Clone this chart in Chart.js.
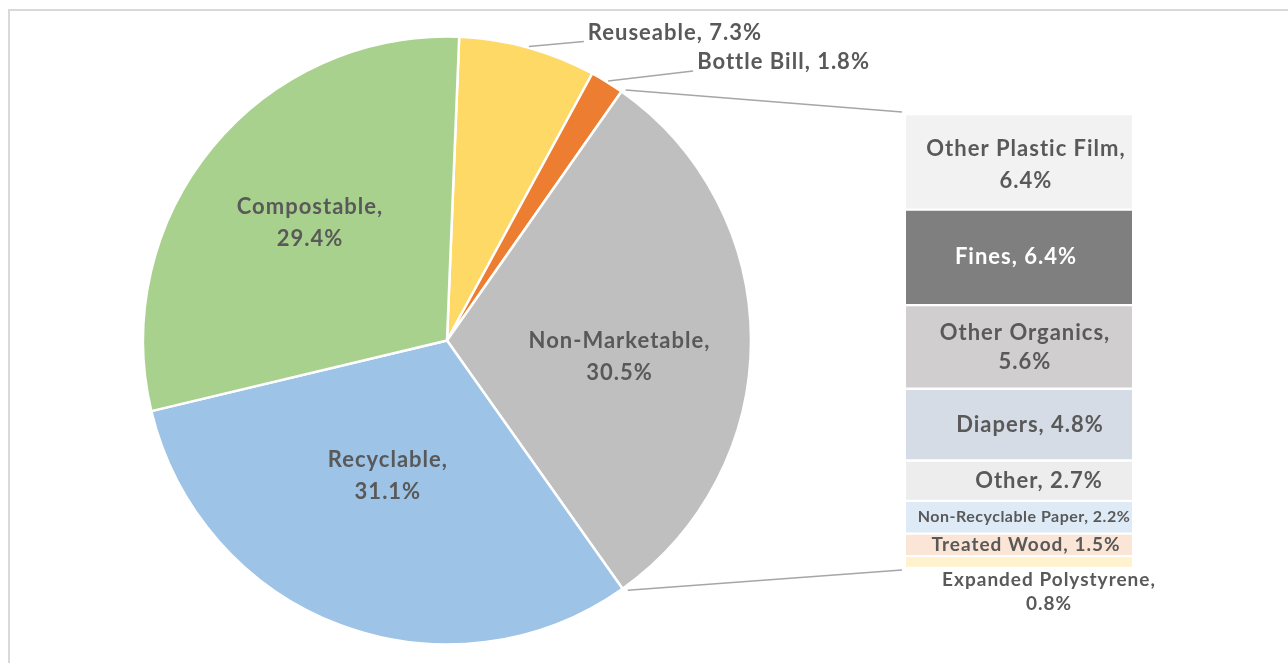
<!DOCTYPE html>
<html>
<head>
<meta charset="utf-8">
<script src="https://cdn.jsdelivr.net/npm/chart.js@4.4.1/dist/chart.umd.min.js"></script>
<style>
  html, body { margin: 0; padding: 0; background: #fff; }
  #wrap { position: relative; width: 1288px; height: 663px; overflow: hidden; }
  #frame { position: absolute; left: 8px; top: 9px; width: 1400px; height: 800px; border: 2px solid #d9d9d9; box-sizing: border-box; }
  canvas { position: absolute; left: 0; top: 0; }
</style>
</head>
<body>
<div id="wrap">
  <div id="frame"></div>
  <canvas id="pieCanvas" width="1288" height="663"></canvas>
  <canvas id="barCanvas" width="1288" height="663"></canvas>
</div>
<script>
// pie slices, clockwise from the top
const pieLabels = ['Reuseable', 'Bottle Bill', 'Non-Marketable', 'Recyclable', 'Compostable']
const pieValues = [7.3, 1.8, 30.5, 31.1, 29.4]
const pieColors = ['#ffd966', '#ed7d31', '#bfbfbf', '#9dc3e6', '#a9d18e']

// breakdown of Non-Marketable, bottom to top of the stacked bar
const barLabels = ['Expanded Polystyrene', 'Treated Wood', 'Non-Recyclable Paper', 'Other', 'Diapers', 'Other Organics', 'Fines', 'Other Plastic Film']
const barValues = [0.8, 1.5, 2.2, 2.7, 4.8, 5.6, 6.4, 6.4]
const barColors = ['#fff2cc', '#fbe5d6', '#deebf7', '#ededed', '#d6dce5', '#d0cece', '#7f7f7f', '#f2f2f2']

const FONT = 'Lato, "DejaVu Sans", sans-serif'
const TEXT = '#595959'
const LINE = '#a6a6a6'

function fmt(v) { return v.toFixed(1) + '%' }

function drawText(ctx, lines, x, y, size, color, lh) {
    ctx.save()
    ctx.font = 'bold ' + size + 'px ' + FONT
    ctx.letterSpacing = (size > 16 ? 1 : 0.5) + 'px'
    ctx.fillStyle = color
    ctx.textAlign = 'center'
    ctx.textBaseline = 'middle'
    const start = y - (lines.length - 1) * lh / 2
    lines.forEach((t, i) => ctx.fillText(t, x, start + i * lh))
    ctx.restore()
}

function arcPoint(arc, angle, r) {
    return { x: arc.x + Math.cos(angle) * r, y: arc.y + Math.sin(angle) * r }
}

// inside labels: [fraction of radius, angle nudge in degrees]
const insideLabel = { 'Non-Marketable': [0.57, 5.7], 'Recyclable': [0.485, 3.0], 'Compostable': [0.593, 1.1] }
// outside labels: offset of text start from slice edge
const outsideLabel = { 'Reuseable': [60, -15], 'Bottle Bill': [90, -20] }

const pieLabelPlugin = {
    id: 'pieLabels',
    afterDraw(chart) {
        const ctx = chart.ctx
        const arcs = chart.getDatasetMeta(0).data
        arcs.forEach((arc, i) => {
            const name = pieLabels[i]
            const mid = (arc.startAngle + arc.endAngle) / 2
            if (insideLabel[name]) {
                const [f, nudge] = insideLabel[name]
                const p = arcPoint(arc, mid + nudge * Math.PI / 180, arc.outerRadius * f)
                drawText(ctx, [name + ',', fmt(pieValues[i])], p.x, p.y, 22, TEXT, 32)
            } else {
                const edge = arcPoint(arc, mid, arc.outerRadius)
                const [ox, oy] = outsideLabel[name]
                ctx.save()
                ctx.strokeStyle = LINE
                ctx.lineWidth = 1.5
                ctx.beginPath()
                ctx.moveTo(edge.x + 1, edge.y - 1)
                ctx.lineTo(edge.x + ox - 4, edge.y + oy + 9)
                ctx.stroke()
                ctx.font = 'bold 22px ' + FONT
                ctx.letterSpacing = '1px'
                ctx.fillStyle = TEXT
                ctx.textBaseline = 'middle'
                ctx.fillText(name + ', ' + fmt(pieValues[i]), edge.x + ox, edge.y + oy)
                ctx.restore()
            }
        })
    }
}

const pieChart = new Chart(document.getElementById('pieCanvas'), {
    type: 'pie',
    data: {
        labels: pieLabels,
        datasets: [{
            data: pieValues,
            backgroundColor: pieColors,
            borderColor: '#ffffff',
            borderWidth: 2.5,
            hoverOffset: 0
        }]
    },
    options: {
        responsive: false,
        animation: false,
        rotation: 2.3,
        radius: 304,
        layout: { padding: { left: 143, right: 537, top: 37, bottom: 19 } },
        plugins: { legend: { display: false }, tooltip: { enabled: false } }
    },
    plugins: [pieLabelPlugin]
})

// label tweaks for the bar: [dx, dy, font size, two lines]
const barLabelStyle = {
    'Other Plastic Film': [7, 3, 22, true], 'Fines': [-3, 0, 22, false], 'Other Organics': [6, 0, 22, true],
    'Diapers': [11, 0, 22, false], 'Other': [20, 0, 22, false], 'Non-Recyclable Paper': [5, 0, 16, false],
    'Treated Wood': [7, 0, 19, false], 'Expanded Polystyrene': [30, 30, 19, true]
}

const barLabelPlugin = {
    id: 'barLabels',
    afterDraw(chart) {
        const ctx = chart.ctx
        // connector lines from the Non-Marketable slice to the bar
        const slice = pieChart.getDatasetMeta(0).data[2]
        const a = arcPoint(slice, slice.startAngle, slice.outerRadius + 2)
        const b = arcPoint(slice, slice.endAngle, slice.outerRadius + 2)
        const top = chart.getDatasetMeta(barValues.length - 1).data[0]
        const bottom = chart.getDatasetMeta(0).data[0]
        const left = top.x - top.width / 2
        ctx.save()
        ctx.strokeStyle = LINE
        ctx.lineWidth = 1.5
        ctx.beginPath()
        ctx.moveTo(a.x + 3, a.y)
        ctx.lineTo(left - 4, top.y - 2)
        ctx.moveTo(b.x + 4, b.y)
        ctx.lineTo(left - 4, bottom.base + 2)
        ctx.stroke()
        ctx.restore()

        barLabels.forEach((name, i) => {
            const bar = chart.getDatasetMeta(i).data[0]
            const [dx, dy, size, split] = barLabelStyle[name]
            const cy = (bar.y + bar.base) / 2 + dy
            const color = name === 'Fines' ? '#ffffff' : TEXT
            const lines = split ? [name + ',', fmt(barValues[i])] : [name + ', ' + fmt(barValues[i])]
            const lh = name === 'Expanded Polystyrene' ? 24 : (name === 'Other Organics' ? 29 : 32)
            drawText(ctx, lines, bar.x + dx, cy, size, color, lh)
        })
    }
}

new Chart(document.getElementById('barCanvas'), {
    type: 'bar',
    data: {
        labels: ['Non-Marketable'],
        datasets: barLabels.map((name, i) => ({
            label: name,
            data: [barValues[i]],
            backgroundColor: barColors[i],
            borderColor: '#ffffff',
            borderWidth: { top: 1.5, bottom: 1.5 },
            borderSkipped: false,
            barPercentage: 1,
            categoryPercentage: 1
        }))
    },
    options: {
        responsive: false,
        animation: false,
        layout: { padding: { left: 906, right: 156, top: 114, bottom: 95 } },
        scales: {
            x: { stacked: true, display: false },
            y: { stacked: true, display: false, min: 0, max: 30.4 }
        },
        plugins: { legend: { display: false }, tooltip: { enabled: false } }
    },
    plugins: [barLabelPlugin]
})
</script>
</body>
</html>
